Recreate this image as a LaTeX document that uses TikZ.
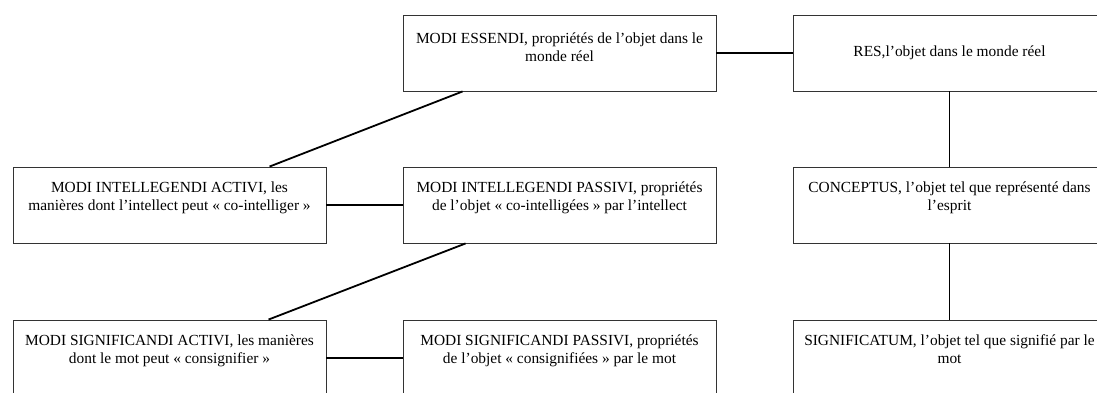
\documentclass[tikz,border=0pt]{standalone}
\usepackage{fontspec}
\setmainfont{Liberation Serif}
% empty trailing line of adjustable height, used to push text up in a box
\newcommand\tailgap[1]{\\[#1]\strut}
\begin{document}
\begin{tikzpicture}[x=1pt, y=-1pt,
  box/.style={draw=black!80, line width=0.9pt, minimum width=313pt,
    minimum height=76pt, inner sep=0pt, align=center,
    font=\fontsize{15.4}{18}\selectfont},
  link/.style={line width=1.8pt}]
\useasboundingbox (0,0) rectangle (1097,392);
\clip (0,0) rectangle (1097,392);

% top row
\node[box] (ess) at (559.5,53) {MODI ESSENDI, propriétés de l’objet dans le\\monde réel\tailgap{-12pt}};
\node[box] (res) at (949.5,53) {RES,l’objet dans le monde réel};

% middle row
\node[box] (ia) at (169.5,205) {MODI INTELLEGENDI ACTIVI, les\\manières dont l’intellect peut «~co-intelliger~»\tailgap{-6pt}};
\node[box] (ip) at (559.5,205) {MODI INTELLEGENDI PASSIVI, propriétés\\de l’objet «~co-intelligées~» par l’intellect\tailgap{-6pt}};
\node[box] (con) at (949.5,205) {CONCEPTUS, l’objet tel que représenté dans\\l’esprit\tailgap{-6pt}};

% bottom row
\node[box] (sa) at (169.5,358) {MODI SIGNIFICANDI ACTIVI, les manières\\dont le mot peut «~consignifier~»\tailgap{-6pt}};
\node[box] (sp) at (559.5,358) {MODI SIGNIFICANDI PASSIVI, propriétés\\de l’objet «~consignifiées~» par le mot\tailgap{-6pt}};
\node[box] (sig) at (949.5,358) {SIGNIFICATUM, l’objet tel que signifié par le\\mot\tailgap{-6pt}};

% connectors
\draw[link] (ess) -- (res);
\draw[link] (res) -- (con);
\draw[link] (con) -- (sig);
\draw[link] (ia) -- (ip);
\draw[link] (sa) -- (sp);
\draw[link] ([xshift=60pt]ess.south west) -- ([xshift=257pt]ia.north west);
\draw[link] ([xshift=63pt]ip.south west) -- ([xshift=256pt]sa.north west);
\end{tikzpicture}
\end{document}
